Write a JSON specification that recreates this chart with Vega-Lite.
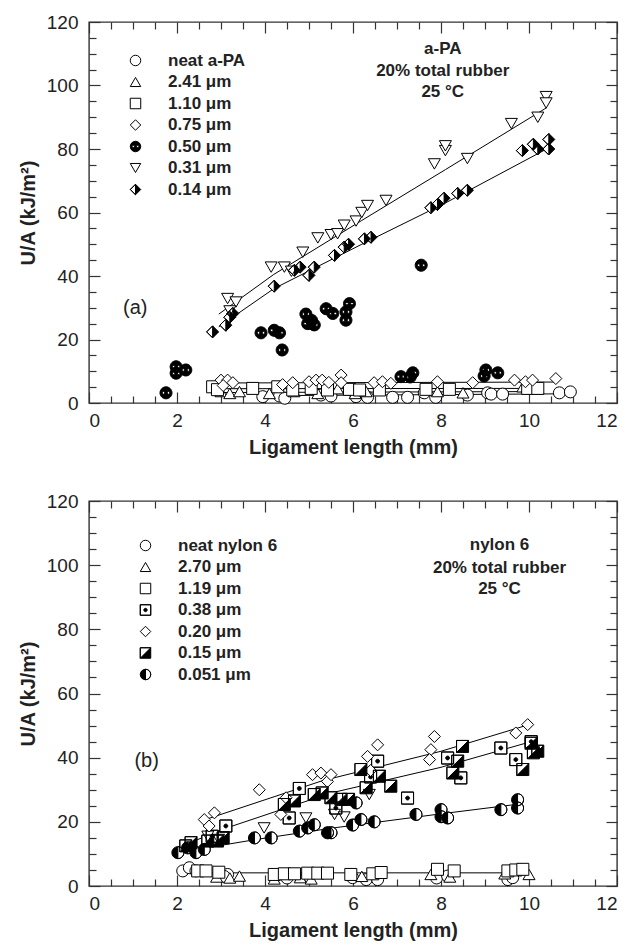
{
  "$schema": "https://vega.github.io/schema/vega-lite/v6.json",
  "padding": {"left": 17, "top": 12, "right": 5, "bottom": 5},
  "background": "white",
  "spacing": 33,
  "config": {
    "font": "Liberation Sans",
    "view": {"stroke": "#333", "strokeWidth": 1.4},
    "axis": {"domain": false, "grid": false, "labelFont": "Liberation Sans", "labelFontSize": 19, "labelColor": "#222", "tickColor": "#333", "tickWidth": 1.2, "titleFont": "Liberation Sans", "titleFontSize": 20, "titleFontWeight": "bold", "titleColor": "#222"}
  },
  "datasets": {
    "a_pts": [
      {"L":3.95,"UA":2.0,"s":"neat a-PA"},{"L":4.33,"UA":2.2,"s":"neat a-PA"},{"L":4.45,"UA":1.5,"s":"neat a-PA"},{"L":5.27,"UA":2.5,"s":"neat a-PA"},{"L":5.5,"UA":2.2,"s":"neat a-PA"},{"L":6.07,"UA":2.0,"s":"neat a-PA"},{"L":6.33,"UA":1.8,"s":"neat a-PA"},{"L":6.9,"UA":1.8,"s":"neat a-PA"},{"L":7.24,"UA":1.8,"s":"neat a-PA"},{"L":7.62,"UA":3.2,"s":"neat a-PA"},{"L":7.88,"UA":1.8,"s":"neat a-PA"},{"L":8.6,"UA":2.5,"s":"neat a-PA"},{"L":9.06,"UA":3.2,"s":"neat a-PA"},{"L":9.14,"UA":2.8,"s":"neat a-PA"},{"L":9.4,"UA":2.8,"s":"neat a-PA"},{"L":10.69,"UA":3.2,"s":"neat a-PA"},{"L":10.94,"UA":3.5,"s":"neat a-PA"},
      {"L":3.0,"UA":3.6,"s":"2.41 μm"},{"L":3.2,"UA":3.0,"s":"2.41 μm"},{"L":3.42,"UA":3.6,"s":"2.41 μm"},{"L":4.1,"UA":3.0,"s":"2.41 μm"},{"L":4.66,"UA":3.6,"s":"2.41 μm"},{"L":5.2,"UA":3.0,"s":"2.41 μm"},{"L":5.65,"UA":4.5,"s":"2.41 μm"},{"L":6.05,"UA":3.0,"s":"2.41 μm"},{"L":6.3,"UA":3.6,"s":"2.41 μm"},{"L":7.92,"UA":3.6,"s":"2.41 μm"},{"L":8.5,"UA":3.2,"s":"2.41 μm"},{"L":9.86,"UA":5.1,"s":"2.41 μm"},{"L":10.2,"UA":4.5,"s":"2.41 μm"},
      {"L":2.81,"UA":5.1,"s":"1.10  μm"},{"L":2.92,"UA":4.2,"s":"1.10  μm"},{"L":3.72,"UA":4.6,"s":"1.10  μm"},{"L":4.29,"UA":5.1,"s":"1.10  μm"},{"L":4.63,"UA":4.1,"s":"1.10  μm"},{"L":5.05,"UA":4.6,"s":"1.10  μm"},{"L":5.42,"UA":4.1,"s":"1.10  μm"},{"L":5.92,"UA":4.3,"s":"1.10  μm"},{"L":6.15,"UA":4.1,"s":"1.10  μm"},{"L":6.6,"UA":4.1,"s":"1.10  μm"},{"L":7.66,"UA":4.3,"s":"1.10  μm"},{"L":8.19,"UA":4.3,"s":"1.10  μm"},{"L":9.97,"UA":4.6,"s":"1.10  μm"},{"L":10.2,"UA":4.6,"s":"1.10  μm"},
      {"L":3.0,"UA":7.2,"s":"0.75  μm"},{"L":3.15,"UA":7.2,"s":"0.75  μm"},{"L":3.27,"UA":6.4,"s":"0.75  μm"},{"L":3.05,"UA":5.5,"s":"0.75  μm"},{"L":4.4,"UA":5.8,"s":"0.75  μm"},{"L":4.63,"UA":6.4,"s":"0.75  μm"},{"L":5.0,"UA":6.7,"s":"0.75  μm"},{"L":5.16,"UA":7.2,"s":"0.75  μm"},{"L":5.3,"UA":7.2,"s":"0.75  μm"},{"L":5.45,"UA":6.5,"s":"0.75  μm"},{"L":5.73,"UA":8.8,"s":"0.75  μm"},{"L":5.73,"UA":6.4,"s":"0.75  μm"},{"L":6.48,"UA":6.4,"s":"0.75  μm"},{"L":6.67,"UA":6.7,"s":"0.75  μm"},{"L":6.86,"UA":6.2,"s":"0.75  μm"},{"L":7.92,"UA":6.7,"s":"0.75  μm"},{"L":8.72,"UA":6.4,"s":"0.75  μm"},{"L":9.67,"UA":7.2,"s":"0.75  μm"},{"L":9.92,"UA":6.7,"s":"0.75  μm"},{"L":10.08,"UA":7.2,"s":"0.75  μm"},{"L":10.61,"UA":7.7,"s":"0.75  μm"},
      {"L":1.75,"UA":3.2,"s":"0.50 μm"},{"L":1.98,"UA":11.4,"s":"0.50 μm"},{"L":1.98,"UA":9.4,"s":"0.50 μm"},{"L":2.2,"UA":10.4,"s":"0.50 μm"},{"L":3.91,"UA":22.1,"s":"0.50 μm"},{"L":4.21,"UA":22.9,"s":"0.50 μm"},{"L":4.33,"UA":22.1,"s":"0.50 μm"},{"L":4.39,"UA":16.7,"s":"0.50 μm"},{"L":4.93,"UA":28.0,"s":"0.50 μm"},{"L":4.97,"UA":25.0,"s":"0.50 μm"},{"L":5.06,"UA":26.0,"s":"0.50 μm"},{"L":5.12,"UA":24.6,"s":"0.50 μm"},{"L":5.39,"UA":29.7,"s":"0.50 μm"},{"L":5.54,"UA":28.2,"s":"0.50 μm"},{"L":5.92,"UA":31.3,"s":"0.50 μm"},{"L":5.84,"UA":28.7,"s":"0.50 μm"},{"L":5.84,"UA":26.1,"s":"0.50 μm"},{"L":7.55,"UA":43.4,"s":"0.50 μm"},{"L":7.09,"UA":8.3,"s":"0.50 μm"},{"L":7.36,"UA":9.5,"s":"0.50 μm"},{"L":7.3,"UA":8.2,"s":"0.50 μm"},{"L":9.02,"UA":10.4,"s":"0.50 μm"},{"L":9.29,"UA":9.5,"s":"0.50 μm"},{"L":8.98,"UA":8.5,"s":"0.50 μm"},
      {"L":3.15,"UA":32.9,"s":"0.31 μm"},{"L":3.34,"UA":31.8,"s":"0.31 μm"},{"L":3.2,"UA":29.0,"s":"0.31 μm"},{"L":4.14,"UA":42.8,"s":"0.31 μm"},{"L":4.44,"UA":42.8,"s":"0.31 μm"},{"L":4.6,"UA":41.5,"s":"0.31 μm"},{"L":4.86,"UA":47.5,"s":"0.31 μm"},{"L":5.2,"UA":52.0,"s":"0.31 μm"},{"L":5.5,"UA":53.0,"s":"0.31 μm"},{"L":5.65,"UA":53.3,"s":"0.31 μm"},{"L":5.8,"UA":56.0,"s":"0.31 μm"},{"L":6.07,"UA":57.3,"s":"0.31 μm"},{"L":6.2,"UA":60.0,"s":"0.31 μm"},{"L":6.33,"UA":62.2,"s":"0.31 μm"},{"L":6.75,"UA":63.8,"s":"0.31 μm"},{"L":7.85,"UA":75.3,"s":"0.31 μm"},{"L":8.1,"UA":79.5,"s":"0.31 μm"},{"L":8.1,"UA":81.0,"s":"0.31 μm"},{"L":8.6,"UA":77.0,"s":"0.31 μm"},{"L":9.6,"UA":88.0,"s":"0.31 μm"},{"L":10.2,"UA":90.0,"s":"0.31 μm"},{"L":10.39,"UA":96.5,"s":"0.31 μm"},{"L":10.39,"UA":94.5,"s":"0.31 μm"},
      {"L":2.81,"UA":22.4,"s":"0.14 μm"},{"L":3.11,"UA":24.5,"s":"0.14 μm"},{"L":3.27,"UA":28.2,"s":"0.14 μm"},{"L":3.2,"UA":27.0,"s":"0.14 μm"},{"L":4.21,"UA":36.8,"s":"0.14 μm"},{"L":4.67,"UA":41.8,"s":"0.14 μm"},{"L":4.8,"UA":42.8,"s":"0.14 μm"},{"L":5.0,"UA":40.2,"s":"0.14 μm"},{"L":5.12,"UA":42.8,"s":"0.14 μm"},{"L":5.58,"UA":46.5,"s":"0.14 μm"},{"L":5.8,"UA":49.1,"s":"0.14 μm"},{"L":5.9,"UA":50.0,"s":"0.14 μm"},{"L":6.26,"UA":51.7,"s":"0.14 μm"},{"L":6.41,"UA":52.2,"s":"0.14 μm"},{"L":7.77,"UA":61.5,"s":"0.14 μm"},{"L":7.92,"UA":62.5,"s":"0.14 μm"},{"L":8.07,"UA":64.5,"s":"0.14 μm"},{"L":8.38,"UA":66.0,"s":"0.14 μm"},{"L":8.6,"UA":67.0,"s":"0.14 μm"},{"L":9.85,"UA":79.5,"s":"0.14 μm"},{"L":10.1,"UA":81.5,"s":"0.14 μm"},{"L":10.2,"UA":80.0,"s":"0.14 μm"},{"L":10.45,"UA":83.0,"s":"0.14 μm"},{"L":10.45,"UA":80.0,"s":"0.14 μm"}
    ],
    "a_lines": [
      {"L":2.95,"UA":28.0,"s":"0.31 μm"},{"L":4.2,"UA":40.5,"s":"0.31 μm"},{"L":6.2,"UA":57.5,"s":"0.31 μm"},{"L":8.1,"UA":73.5,"s":"0.31 μm"},{"L":10.4,"UA":93.0,"s":"0.31 μm"},
      {"L":2.95,"UA":24.0,"s":"0.14 μm"},{"L":4.2,"UA":36.0,"s":"0.14 μm"},{"L":6.2,"UA":50.0,"s":"0.14 μm"},{"L":8.1,"UA":63.0,"s":"0.14 μm"},{"L":10.4,"UA":80.0,"s":"0.14 μm"},
      {"L":2.9,"UA":6.3,"s":"0.75  μm"},{"L":10.6,"UA":6.6,"s":"0.75  μm"},
      {"L":2.8,"UA":4.5,"s":"1.10  μm"},{"L":10.2,"UA":4.6,"s":"1.10  μm"},
      {"L":3.0,"UA":3.3,"s":"2.41 μm"},{"L":10.2,"UA":3.6,"s":"2.41 μm"},
      {"L":3.9,"UA":2.3,"s":"neat a-PA"},{"L":10.9,"UA":2.9,"s":"neat a-PA"}
    ],
    "a_txt": [
      {"L":8.04,"UA":111.4,"t":"a-PA"},{"L":8.04,"UA":104.6,"t":"20% total rubber"},{"L":8.04,"UA":97.8,"t":"25 °C"}
    ],
    "a_lab": [{"L":1.05,"UA":29.8,"t":"(a)"}],
    "b_pts": [
      {"L":2.13,"UA":4.7,"s":"neat nylon 6"},{"L":2.28,"UA":5.7,"s":"neat nylon 6"},{"L":2.43,"UA":4.7,"s":"neat nylon 6"},{"L":3.15,"UA":3.6,"s":"neat nylon 6"},{"L":3.07,"UA":3.0,"s":"neat nylon 6"},{"L":4.5,"UA":2.5,"s":"neat nylon 6"},{"L":5.0,"UA":3.0,"s":"neat nylon 6"},{"L":5.99,"UA":2.6,"s":"neat nylon 6"},{"L":6.3,"UA":2.0,"s":"neat nylon 6"},{"L":6.56,"UA":2.0,"s":"neat nylon 6"},{"L":7.9,"UA":2.5,"s":"neat nylon 6"},{"L":8.15,"UA":3.1,"s":"neat nylon 6"},{"L":9.52,"UA":2.0,"s":"neat nylon 6"},{"L":9.63,"UA":2.6,"s":"neat nylon 6"},
      {"L":2.9,"UA":2.8,"s":"2.70 μm"},{"L":3.2,"UA":2.5,"s":"2.70 μm"},{"L":3.42,"UA":3.1,"s":"2.70 μm"},{"L":4.21,"UA":2.2,"s":"2.70 μm"},{"L":4.8,"UA":2.6,"s":"2.70 μm"},{"L":5.05,"UA":2.2,"s":"2.70 μm"},{"L":6.2,"UA":3.0,"s":"2.70 μm"},{"L":7.77,"UA":3.6,"s":"2.70 μm"},{"L":8.2,"UA":2.8,"s":"2.70 μm"},{"L":9.45,"UA":3.8,"s":"2.70 μm"},{"L":10.0,"UA":3.6,"s":"2.70 μm"},
      {"L":2.47,"UA":4.7,"s":"1.19 μm"},{"L":2.66,"UA":4.7,"s":"1.19 μm"},{"L":2.95,"UA":4.3,"s":"1.19 μm"},{"L":4.21,"UA":3.6,"s":"1.19 μm"},{"L":4.44,"UA":3.8,"s":"1.19 μm"},{"L":4.67,"UA":3.8,"s":"1.19 μm"},{"L":4.97,"UA":4.0,"s":"1.19 μm"},{"L":5.2,"UA":4.0,"s":"1.19 μm"},{"L":5.42,"UA":4.0,"s":"1.19 μm"},{"L":5.95,"UA":3.6,"s":"1.19 μm"},{"L":6.45,"UA":3.8,"s":"1.19 μm"},{"L":6.64,"UA":4.2,"s":"1.19 μm"},{"L":7.92,"UA":5.2,"s":"1.19 μm"},{"L":8.3,"UA":4.7,"s":"1.19 μm"},{"L":9.52,"UA":4.7,"s":"1.19 μm"},{"L":9.7,"UA":5.0,"s":"1.19 μm"},{"L":9.86,"UA":5.2,"s":"1.19 μm"},
      {"L":2.7,"UA":15.5,"s":"other"},{"L":2.95,"UA":14.5,"s":"other"},{"L":3.98,"UA":18.1,"s":"other"},{"L":4.93,"UA":21.2,"s":"other"},{"L":5.58,"UA":22.3,"s":"other"},{"L":5.8,"UA":21.5,"s":"other"},{"L":6.37,"UA":28.5,"s":"other"},
      {"L":2.8,"UA":15.5,"s":"0.38 μm"},{"L":3.11,"UA":18.7,"s":"0.38 μm"},{"L":4.55,"UA":21.2,"s":"0.38 μm"},{"L":4.78,"UA":30.4,"s":"0.38 μm"},{"L":5.61,"UA":24.3,"s":"0.38 μm"},{"L":6.4,"UA":34.0,"s":"0.38 μm"},{"L":6.56,"UA":38.9,"s":"0.38 μm"},{"L":7.24,"UA":27.4,"s":"0.38 μm"},{"L":8.15,"UA":39.9,"s":"0.38 μm"},{"L":8.45,"UA":33.7,"s":"0.38 μm"},{"L":9.36,"UA":43.0,"s":"0.38 μm"},{"L":9.7,"UA":39.4,"s":"0.38 μm"},{"L":10.05,"UA":45.0,"s":"0.38 μm"},
      {"L":2.62,"UA":20.7,"s":"0.20 μm"},{"L":2.85,"UA":22.8,"s":"0.20 μm"},{"L":2.73,"UA":18.7,"s":"0.20 μm"},{"L":3.87,"UA":30.0,"s":"0.20 μm"},{"L":4.36,"UA":22.3,"s":"0.20 μm"},{"L":4.48,"UA":27.5,"s":"0.20 μm"},{"L":5.08,"UA":34.7,"s":"0.20 μm"},{"L":5.27,"UA":35.2,"s":"0.20 μm"},{"L":5.42,"UA":32.6,"s":"0.20 μm"},{"L":5.5,"UA":34.7,"s":"0.20 μm"},{"L":6.33,"UA":40.4,"s":"0.20 μm"},{"L":6.4,"UA":36.0,"s":"0.20 μm"},{"L":6.56,"UA":44.0,"s":"0.20 μm"},{"L":7.85,"UA":46.6,"s":"0.20 μm"},{"L":7.77,"UA":42.5,"s":"0.20 μm"},{"L":7.74,"UA":39.4,"s":"0.20 μm"},{"L":9.7,"UA":47.7,"s":"0.20 μm"},{"L":9.97,"UA":50.3,"s":"0.20 μm"},
      {"L":2.2,"UA":12.5,"s":"0.15 μm"},{"L":2.32,"UA":13.5,"s":"0.15 μm"},{"L":2.7,"UA":14.0,"s":"0.15 μm"},{"L":2.92,"UA":14.0,"s":"0.15 μm"},{"L":3.05,"UA":15.0,"s":"0.15 μm"},{"L":4.44,"UA":25.4,"s":"0.15 μm"},{"L":4.67,"UA":26.5,"s":"0.15 μm"},{"L":5.12,"UA":28.5,"s":"0.15 μm"},{"L":5.3,"UA":29.0,"s":"0.15 μm"},{"L":5.5,"UA":27.5,"s":"0.15 μm"},{"L":5.73,"UA":27.0,"s":"0.15 μm"},{"L":5.9,"UA":27.0,"s":"0.15 μm"},{"L":6.18,"UA":36.3,"s":"0.15 μm"},{"L":6.3,"UA":30.6,"s":"0.15 μm"},{"L":6.6,"UA":34.2,"s":"0.15 μm"},{"L":6.86,"UA":31.1,"s":"0.15 μm"},{"L":8.27,"UA":35.2,"s":"0.15 μm"},{"L":8.38,"UA":38.9,"s":"0.15 μm"},{"L":8.49,"UA":43.5,"s":"0.15 μm"},{"L":9.86,"UA":36.3,"s":"0.15 μm"},{"L":10.05,"UA":44.5,"s":"0.15 μm"},{"L":10.1,"UA":41.5,"s":"0.15 μm"},{"L":10.2,"UA":42.0,"s":"0.15 μm"},
      {"L":2.02,"UA":10.4,"s":"0.051 μm"},{"L":2.24,"UA":11.9,"s":"0.051 μm"},{"L":2.43,"UA":10.4,"s":"0.051 μm"},{"L":2.62,"UA":11.4,"s":"0.051 μm"},{"L":3.76,"UA":15.0,"s":"0.051 μm"},{"L":4.14,"UA":15.0,"s":"0.051 μm"},{"L":4.78,"UA":17.1,"s":"0.051 μm"},{"L":4.97,"UA":18.1,"s":"0.051 μm"},{"L":5.12,"UA":19.1,"s":"0.051 μm"},{"L":5.42,"UA":16.6,"s":"0.051 μm"},{"L":5.5,"UA":16.6,"s":"0.051 μm"},{"L":5.99,"UA":19.0,"s":"0.051 μm"},{"L":6.18,"UA":20.7,"s":"0.051 μm"},{"L":6.07,"UA":25.9,"s":"0.051 μm"},{"L":6.48,"UA":20.0,"s":"0.051 μm"},{"L":7.43,"UA":22.3,"s":"0.051 μm"},{"L":8.0,"UA":23.8,"s":"0.051 μm"},{"L":8.0,"UA":21.6,"s":"0.051 μm"},{"L":8.15,"UA":21.2,"s":"0.051 μm"},{"L":9.36,"UA":23.8,"s":"0.051 μm"},{"L":9.74,"UA":26.9,"s":"0.051 μm"},{"L":9.74,"UA":24.3,"s":"0.051 μm"}
    ],
    "b_lines": [
      {"L":2.6,"UA":20.5,"s":"0.20 μm"},{"L":5.3,"UA":32.8,"s":"0.20 μm"},{"L":8.0,"UA":42.0,"s":"0.20 μm"},{"L":10.0,"UA":50.3,"s":"0.20 μm"},
      {"L":2.3,"UA":13.5,"s":"0.15 μm"},{"L":3.0,"UA":17.5,"s":"0.15 μm"},{"L":5.5,"UA":29.0,"s":"0.15 μm"},{"L":8.0,"UA":37.0,"s":"0.15 μm"},{"L":10.05,"UA":45.0,"s":"0.15 μm"},
      {"L":2.05,"UA":10.5,"s":"0.051 μm"},{"L":3.8,"UA":14.5,"s":"0.051 μm"},{"L":5.5,"UA":18.0,"s":"0.051 μm"},{"L":8.0,"UA":22.5,"s":"0.051 μm"},{"L":9.75,"UA":25.5,"s":"0.051 μm"},
      {"L":2.0,"UA":4.1,"s":"1.19 μm"},{"L":10.05,"UA":4.1,"s":"1.19 μm"}
    ],
    "b_txt": [
      {"L":9.33,"UA":106.2,"t":"nylon 6"},{"L":9.33,"UA":99.2,"t":"20%  total rubber"},{"L":9.33,"UA":92.7,"t":"25 °C"}
    ],
    "b_lab": [{"L":1.31,"UA":38.9,"t":"(b)"}]
  },
  "vconcat": [
    {
      "width": 528,
      "height": 381,
      "layer": [
        {
          "data": {"name": "a_lines"},
          "mark": {"type": "line", "stroke": "black", "strokeWidth": 1},
          "encoding": {
            "x": {"field": "L", "type": "quantitative", "scale": {"domain": [0, 12], "nice": false, "zero": false}, "axis": {"orient": "bottom", "values": [0,2,4,6,8,10,12], "tickSize": -11, "labelPadding": 19, "title": "Ligament length (mm)", "titlePadding": 7}},
            "y": {"field": "UA", "type": "quantitative", "scale": {"domain": [0, 120], "nice": false, "zero": false}, "axis": {"orient": "left", "values": [0,20,40,60,80,100,120], "tickSize": -11, "labelPadding": 22, "title": "U/A (kJ/m²)", "titlePadding": 8}},
            "detail": {"field": "s"}
          }
        },
        {
          "data": {"name": "a_pts"},
          "transform": [{"filter": {"field": "s", "oneOf": ["0.50 μm"]}}],
          "mark": {"type": "point", "shape": "circle", "filled": true, "fill": "white", "strokeWidth": 0, "size": 144, "opacity": 1},
          "encoding": {
            "x": {"field": "L", "type": "quantitative", "axis": {"orient": "bottom", "values": [0.5,1,1.5,2.5,3,3.5,4.5,5,5.5,6.5,7,7.5,8.5,9,9.5,10.5,11,11.5], "tickSize": -7, "labels": false, "title": null}},
            "y": {"field": "UA", "type": "quantitative", "axis": {"orient": "left", "values": [5,10,15,25,30,35,45,50,55,65,70,75,85,90,95,105,110,115], "tickSize": -7, "labels": false, "title": null}}
          }
        },
        {
          "data": {"name": "a_pts"},
          "transform": [{"filter": {"field": "s", "oneOf": ["0.14 μm"]}}],
          "mark": {"type": "point", "shape": "diamond", "filled": true, "fill": "white", "strokeWidth": 0, "size": 144, "opacity": 1},
          "encoding": {
            "x": {"field": "L", "type": "quantitative", "axis": {"orient": "top", "values": [0,2,4,6,8,10,12], "tickSize": -11, "labels": false, "title": null}},
            "y": {"field": "UA", "type": "quantitative", "axis": {"orient": "right", "values": [0,20,40,60,80,100,120], "tickSize": -11, "labels": false, "title": null}}
          }
        },
        {
          "data": {"name": "a_pts"},
          "mark": {"type": "point", "filled": true, "stroke": "black", "strokeWidth": 1, "size": 144, "opacity": 1},
          "encoding": {
            "x": {"field": "L", "type": "quantitative", "axis": {"orient": "top", "values": [0.5,1,1.5,2.5,3,3.5,4.5,5,5.5,6.5,7,7.5,8.5,9,9.5,10.5,11,11.5], "tickSize": -7, "labels": false, "title": null}},
            "y": {"field": "UA", "type": "quantitative", "axis": {"orient": "right", "values": [5,10,15,25,30,35,45,50,55,65,70,75,85,90,95,105,110,115], "tickSize": -7, "labels": false, "title": null}},
            "shape": {"field": "s", "type": "nominal",
              "scale": {"domain": ["neat a-PA","2.41 μm","1.10  μm","0.75  μm","0.50 μm","0.31 μm","0.14 μm"],
                        "range": ["circle","triangle-up","square","diamond","M0,-1A1,1,0,1,1,0,1A1,1,0,1,1,0,-1Z M-0.42,-0.22A0.22,0.22,0,1,0,-0.42,0.22A0.22,0.22,0,1,0,-0.42,-0.22Z M0.42,-0.22A0.22,0.22,0,1,0,0.42,0.22A0.22,0.22,0,1,0,0.42,-0.22Z","triangle-down","M0,-1L1,0L0,1L-1,0Z M0,-1L-1,0L0,1Z"]},
              "legend": {"orient": "none", "legendX": 38, "legendY": 30, "title": null, "padding": 0, "labelFont": "Liberation Sans", "labelFontSize": 17, "labelFontWeight": "bold", "labelColor": "#222", "symbolSize": 110, "symbolStrokeColor": "black", "symbolStrokeWidth": 1, "symbolOpacity": 1, "rowPadding": 3.5, "labelOffset": 24,
                "encode": {"symbols": {"update": {"stroke": {"value": "black"}, "strokeWidth": {"value": 1}, "opacity": {"value": 1}}}}}},
            "fill": {"field": "s", "type": "nominal",
              "scale": {"domain": ["neat a-PA","2.41 μm","1.10  μm","0.75  μm","0.50 μm","0.31 μm","0.14 μm"],
                        "range": ["white","white","white","white","black","white","black"]},
              "legend": {"orient": "none", "legendX": 38, "legendY": 30, "title": null, "padding": 0, "labelFont": "Liberation Sans", "labelFontSize": 17, "labelFontWeight": "bold", "labelColor": "#222", "symbolSize": 110, "symbolStrokeColor": "black", "symbolStrokeWidth": 1, "symbolOpacity": 1, "rowPadding": 3.5, "labelOffset": 24,
                "encode": {"symbols": {"update": {"stroke": {"value": "black"}, "strokeWidth": {"value": 1}, "opacity": {"value": 1}}}}}}
          }
        },
        {
          "data": {"name": "a_txt"},
          "mark": {"type": "text", "font": "Liberation Sans", "fontSize": 17, "fontWeight": "bold", "color": "#222", "align": "center", "baseline": "middle"},
          "encoding": {
            "x": {"field": "L", "type": "quantitative", "axis": null},
            "y": {"field": "UA", "type": "quantitative", "axis": null},
            "text": {"field": "t"}
          }
        },
        {
          "data": {"name": "a_lab"},
          "mark": {"type": "text", "font": "Liberation Sans", "fontSize": 20, "color": "#222", "align": "center", "baseline": "middle"},
          "encoding": {
            "x": {"field": "L", "type": "quantitative", "axis": null},
            "y": {"field": "UA", "type": "quantitative", "axis": null},
            "text": {"field": "t"}
          }
        }
      ],
      "resolve": {"axis": {"x": "independent", "y": "independent"}}
    },
    {
      "width": 528,
      "height": 385,
      "layer": [
        {
          "data": {"name": "b_lines"},
          "mark": {"type": "line", "stroke": "black", "strokeWidth": 1},
          "encoding": {
            "x": {"field": "L", "type": "quantitative", "scale": {"domain": [0, 12], "nice": false, "zero": false}, "axis": {"orient": "bottom", "values": [0,2,4,6,8,10,12], "tickSize": -11, "labelPadding": 19, "title": "Ligament length (mm)", "titlePadding": 7}},
            "y": {"field": "UA", "type": "quantitative", "scale": {"domain": [0, 120], "nice": false, "zero": false}, "axis": {"orient": "left", "values": [0,20,40,60,80,100,120], "tickSize": -11, "labelPadding": 22, "title": "U/A (kJ/m²)", "titlePadding": 8}},
            "detail": {"field": "s"}
          }
        },
        {
          "data": {"name": "b_pts"},
          "transform": [{"filter": {"field": "s", "oneOf": ["0.051 μm"]}}],
          "mark": {"type": "point", "shape": "circle", "filled": true, "fill": "white", "strokeWidth": 0, "size": 144, "opacity": 1},
          "encoding": {
            "x": {"field": "L", "type": "quantitative", "axis": {"orient": "bottom", "values": [0.5,1,1.5,2.5,3,3.5,4.5,5,5.5,6.5,7,7.5,8.5,9,9.5,10.5,11,11.5], "tickSize": -7, "labels": false, "title": null}},
            "y": {"field": "UA", "type": "quantitative", "axis": {"orient": "left", "values": [5,10,15,25,30,35,45,50,55,65,70,75,85,90,95,105,110,115], "tickSize": -7, "labels": false, "title": null}}
          }
        },
        {
          "data": {"name": "b_pts"},
          "transform": [{"filter": {"field": "s", "oneOf": ["0.38 μm", "0.15 μm"]}}],
          "mark": {"type": "point", "shape": "square", "filled": true, "fill": "white", "strokeWidth": 0, "size": 144, "opacity": 1},
          "encoding": {
            "x": {"field": "L", "type": "quantitative", "axis": {"orient": "top", "values": [0,2,4,6,8,10,12], "tickSize": -11, "labels": false, "title": null}},
            "y": {"field": "UA", "type": "quantitative", "axis": {"orient": "right", "values": [0,20,40,60,80,100,120], "tickSize": -11, "labels": false, "title": null}}
          }
        },
        {
          "data": {"name": "b_pts"},
          "mark": {"type": "point", "filled": true, "stroke": "black", "strokeWidth": 1, "size": 144, "opacity": 1},
          "encoding": {
            "x": {"field": "L", "type": "quantitative", "axis": {"orient": "top", "values": [0.5,1,1.5,2.5,3,3.5,4.5,5,5.5,6.5,7,7.5,8.5,9,9.5,10.5,11,11.5], "tickSize": -7, "labels": false, "title": null}},
            "y": {"field": "UA", "type": "quantitative", "axis": {"orient": "right", "values": [5,10,15,25,30,35,45,50,55,65,70,75,85,90,95,105,110,115], "tickSize": -7, "labels": false, "title": null}},
            "shape": {"field": "s", "type": "nominal",
              "scale": {"domain": ["neat nylon 6","2.70 μm","1.19 μm","0.38 μm","0.20 μm","0.15 μm","0.051 μm","other"],
                        "range": ["circle","triangle-up","square","M-1,-1L1,-1L1,1L-1,1Z M-1,-1L-1,1L1,1L1,-1Z M0,-0.32A0.32,0.32,0,1,1,0,0.32A0.32,0.32,0,1,1,0,-0.32Z","diamond","M-1,-1L1,-1L1,1L-1,1Z M-1,-1L-1,1L1,-1Z","M0,-1A1,1,0,1,1,0,1A1,1,0,1,1,0,-1Z M0,1A1,1,0,0,0,0,-1Z","triangle-down"]},
              "legend": {"orient": "none", "legendX": 48, "legendY": 36, "title": null, "padding": 0, "values": ["neat nylon 6","2.70 μm","1.19 μm","0.38 μm","0.20 μm","0.15 μm","0.051 μm"], "labelFont": "Liberation Sans", "labelFontSize": 17, "labelFontWeight": "bold", "labelColor": "#222", "symbolSize": 110, "symbolStrokeColor": "black", "symbolStrokeWidth": 1, "symbolOpacity": 1, "rowPadding": 3.5, "labelOffset": 24,
                "encode": {"symbols": {"update": {"stroke": {"value": "black"}, "strokeWidth": {"value": 1}, "opacity": {"value": 1}}}}}},
            "fill": {"field": "s", "type": "nominal",
              "scale": {"domain": ["neat nylon 6","2.70 μm","1.19 μm","0.38 μm","0.20 μm","0.15 μm","0.051 μm","other"],
                        "range": ["white","white","white","black","white","black","black","white"]},
              "legend": {"orient": "none", "legendX": 48, "legendY": 36, "title": null, "padding": 0, "values": ["neat nylon 6","2.70 μm","1.19 μm","0.38 μm","0.20 μm","0.15 μm","0.051 μm"], "labelFont": "Liberation Sans", "labelFontSize": 17, "labelFontWeight": "bold", "labelColor": "#222", "symbolSize": 110, "symbolStrokeColor": "black", "symbolStrokeWidth": 1, "symbolOpacity": 1, "rowPadding": 3.5, "labelOffset": 24,
                "encode": {"symbols": {"update": {"stroke": {"value": "black"}, "strokeWidth": {"value": 1}, "opacity": {"value": 1}}}}}}
          }
        },
        {
          "data": {"name": "b_txt"},
          "mark": {"type": "text", "font": "Liberation Sans", "fontSize": 17, "fontWeight": "bold", "color": "#222", "align": "center", "baseline": "middle"},
          "encoding": {
            "x": {"field": "L", "type": "quantitative", "axis": null},
            "y": {"field": "UA", "type": "quantitative", "axis": null},
            "text": {"field": "t"}
          }
        },
        {
          "data": {"name": "b_lab"},
          "mark": {"type": "text", "font": "Liberation Sans", "fontSize": 20, "color": "#222", "align": "center", "baseline": "middle"},
          "encoding": {
            "x": {"field": "L", "type": "quantitative", "axis": null},
            "y": {"field": "UA", "type": "quantitative", "axis": null},
            "text": {"field": "t"}
          }
        }
      ],
      "resolve": {"axis": {"x": "independent", "y": "independent"}}
    }
  ],
  "resolve": {"scale": {"x": "independent", "y": "independent", "shape": "independent", "fill": "independent"}, "legend": {"shape": "independent", "fill": "independent"}}
}
